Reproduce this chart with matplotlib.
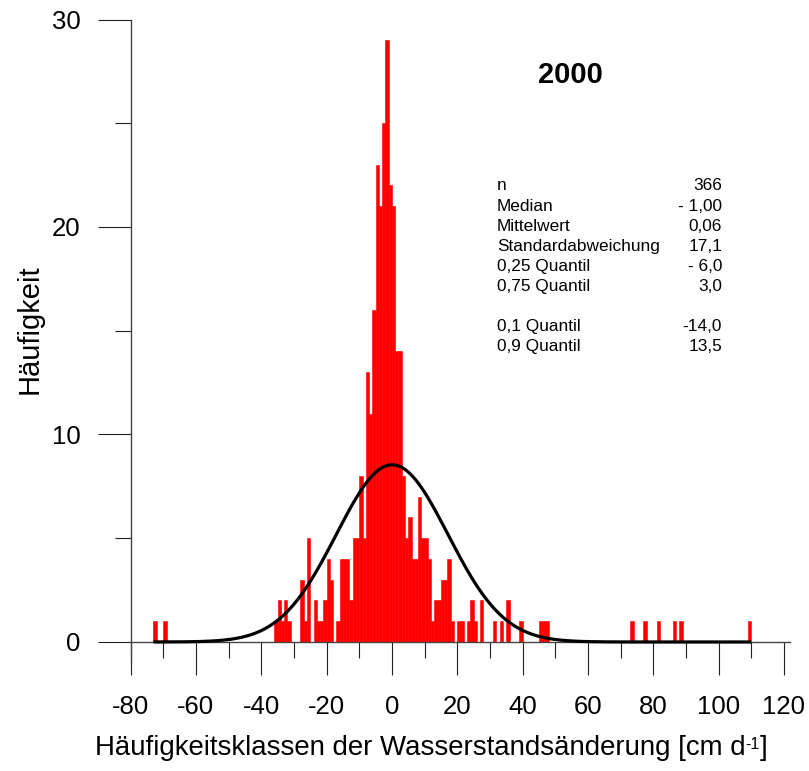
import numpy as np
import matplotlib
matplotlib.use("Agg")
import matplotlib.pyplot as plt
from matplotlib.ticker import MultipleLocator

plt.rcParams['font.family'] = ['Liberation Sans', 'DejaVu Sans']

# ---- data: class left edges [cm/d] and frequencies ----
class_left = [-73, -70,
              -36, -35, -34, -33, -32,
              -28, -27, -26,
              -24, -23, -22, -21, -20, -19,
              -17, -16, -15, -14,
              -13, -12, -11, -10, -9,
              -8, -7, -6,
              -5, -4, -3, -2, -1, 0,
              1, 2,
              3, 4, 5, 6, 7, 8, 9, 10, 11,
              12, 13, 14, 15, 16, 17, 18,
              20, 21, 23, 24, 25, 27,
              31, 33, 35, 39, 45, 46, 47,
              73, 77, 81, 86, 88, 109]
counts = [1, 1,
          1, 2, 1, 2, 1,
          3, 1, 5,
          2, 1, 1, 2, 4, 3,
          1, 4, 4, 4,
          2, 5, 5, 8, 5,
          13, 11, 16,
          23, 21, 25, 29, 22, 21,
          14, 14,
          8, 5, 6, 4, 4, 7, 5, 5, 4,
          1, 2, 2, 3, 3, 4, 1,
          1, 1, 1, 2, 1, 2,
          1, 1, 2, 1, 1, 1, 1,
          1, 1, 1, 1, 1, 1]

# statistics shown in the chart
stat_labels = ["n", "Median", "Mittelwert", "Standardabweichung",
               "0,25 Quantil", "0,75 Quantil", "", "0,1 Quantil", "0,9 Quantil"]
stat_values = ["366", "- 1,00", "0,06", "17,1", "- 6,0", "3,0", "", "-14,0", "13,5"]
n_obs = 366
mean_val = 0.06
sd_val = 17.1
curve_range = (-73, 110)

title = "2000"
xlabel_main = "Häufigkeitsklassen der Wasserstandsänderung [cm d"
xlabel_sup = "-1"
xlabel_end = "]"
ylabel = "Häufigkeit"
xticks = [-80, -60, -40, -20, 0, 20, 40, 60, 80, 100, 120]
yticks = [0, 10, 20, 30]

W, H = 809, 771
fig = plt.figure(figsize=(W / 100, H / 100), dpi=100)

# axes placement in pixels
x0_px, x1_px = 130.6, 790.5
ytop_px, ybot_px = 19.5, 661.9
ax = fig.add_axes([x0_px / W, 1 - ybot_px / H, (x1_px - x0_px) / W, (ybot_px - ytop_px) / H])
ax.set_xlim(-80, 122)
ax.set_ylim(-0.96, 30)

ax.bar(class_left, counts, width=1.0, align='edge', color='#ff0000',
       edgecolor='#ff0000', linewidth=0.4, zorder=2)

xs = np.linspace(curve_range[0], curve_range[1], 600)
ys = n_obs * 1.0 / (sd_val * np.sqrt(2 * np.pi)) * np.exp(-0.5 * ((xs - mean_val) / sd_val) ** 2)
ax.plot(xs, ys, color='black', linewidth=2.3, zorder=3, solid_capstyle='butt')

for s in ['top', 'right']:
    ax.spines[s].set_visible(False)
ax.spines['bottom'].set_position(('data', 0))
for s in ['left', 'bottom']:
    ax.spines[s].set_color('#444444')
    ax.spines[s].set_linewidth(1.0)

ax.set_xticks(xticks)
ax.set_yticks(yticks)
ax.xaxis.set_minor_locator(MultipleLocator(10))
ax.yaxis.set_minor_locator(MultipleLocator(5))
ax.tick_params(which='major', length=24, width=0.8, color='#222222', direction='out',
               labelsize=18.5)
ax.tick_params(which='minor', length=11.5, width=0.8, color='#222222', direction='out')
ax.tick_params(axis='x', which='major', pad=14)
ax.tick_params(axis='y', which='major', pad=12)
ax.set_xticklabels([str(t) for t in xticks])
ax.set_yticklabels([str(t) for t in yticks])

# x label with superscript, built from pieces
t1 = fig.text(95 / W, 1 - 748 / H, xlabel_main, ha='left', va='center', fontsize=19.9)
t2 = fig.text(0, 0, xlabel_sup, fontsize=11.5, ha='left', va='top')
t3 = fig.text(0, 0, xlabel_end, fontsize=19.9, ha='left', va='center')
fig.canvas.draw()
r = fig.canvas.get_renderer()
bb1 = t1.get_window_extent(r)
t2.set_position(((bb1.x1 - 0.5) / W, (bb1.y1 - 2) / H))
fig.canvas.draw()
bb2 = t2.get_window_extent(r)
t3.set_position(((bb2.x1 + 0.5) / W, 1 - 748 / H))

fig.text(30 / W, 1 - 329 / H, ylabel, ha='center', va='center', rotation=90, fontsize=21)
fig.text(570 / W, 1 - 75 / H, title, ha='center', va='center', fontsize=21, fontweight='bold')

y_start, dy = 186, 20.1
for i, (lab, val) in enumerate(zip(stat_labels, stat_values)):
    yy = 1 - (y_start + i * dy) / H
    if lab:
        fig.text(497 / W, yy, lab, ha='left', va='center', fontsize=12.4)
    if val:
        fig.text(722 / W, yy, val, ha='right', va='center', fontsize=12.4)

fig.savefig("out.png", dpi=100)
